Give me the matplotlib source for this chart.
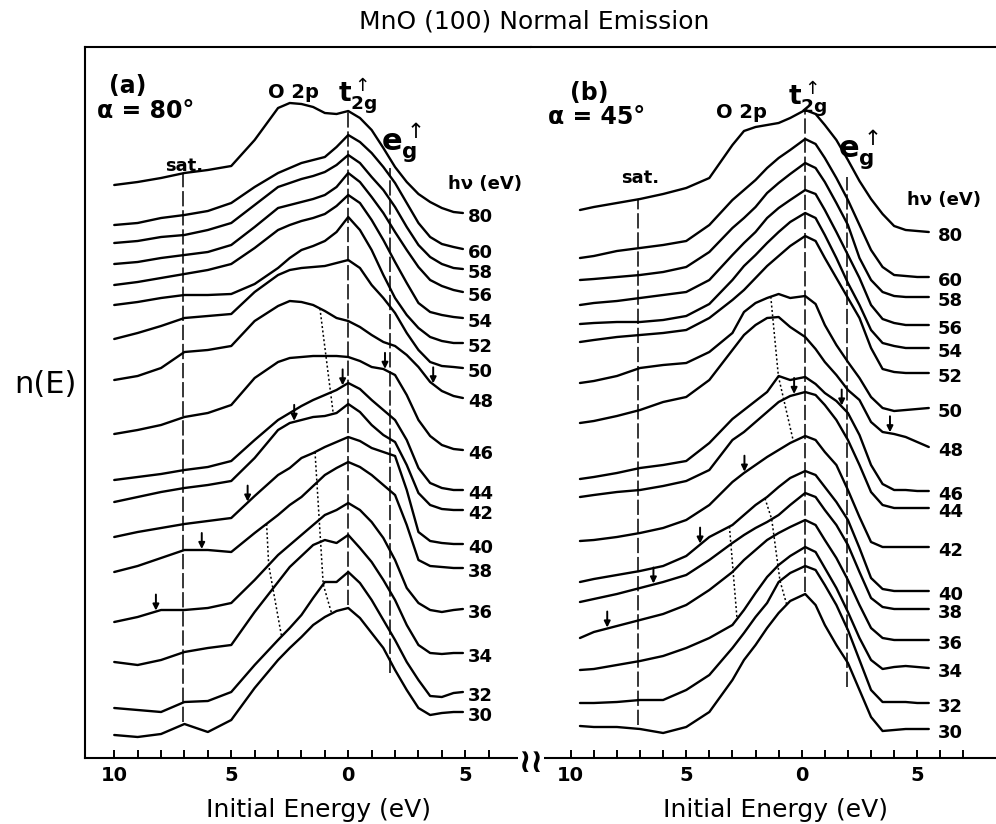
import numpy as np
import matplotlib
matplotlib.use("Agg")
import matplotlib.pyplot as plt

# photon energies, top spectrum first
HV = [80, 60, 58, 56, 54, 52, 50, 48, 46, 44, 42, 40, 38, 36, 34, 32, 30]

# panel (a), alpha = 80 deg: initial energy (eV below E_F) and stacked n(E)
ENERGY_A = [10, 9, 8, 7, 6, 5, 4, 3, 2.5, 2, 1.5, 1, 0.5, 0,
            -0.5, -1, -1.5, -2, -2.5, -3, -3.5, -4, -4.5, -4.9]
A_80 = [573, 576, 580, 585, 588, 592, 618, 650, 655, 654, 651, 645, 644, 647, 640, 628, 610, 591, 576, 564, 556, 550, 546, 545]
A_60 = [533, 535, 540, 543, 547, 555, 571, 585, 590, 595, 598, 601, 611, 623, 616, 605, 591, 575, 555, 535, 521, 514, 511, 509]
A_58 = [515, 517, 521, 523, 528, 535, 553, 571, 575, 579, 582, 586, 593, 603, 595, 581, 568, 551, 531, 513, 501, 494, 490, 489]
A_56 = [494, 496, 500, 503, 506, 513, 531, 550, 553, 556, 559, 563, 571, 585, 576, 561, 545, 526, 508, 491, 478, 472, 468, 466]
A_54 = [473, 476, 480, 484, 488, 494, 510, 528, 533, 537, 540, 544, 552, 563, 555, 538, 518, 496, 475, 455, 446, 443, 441, 440]
A_52 = [453, 456, 460, 463, 463, 464, 474, 490, 500, 508, 512, 517, 526, 541, 528, 508, 483, 460, 443, 430, 421, 417, 415, 415]
A_50 = [419, 425, 432, 440, 442, 444, 466, 483, 488, 490, 491, 492, 495, 498, 490, 473, 460, 445, 425, 408, 396, 392, 391, 390]
A_48 = [378, 382, 390, 406, 408, 412, 437, 452, 457, 456, 453, 447, 440, 437, 431, 423, 416, 412, 403, 391, 376, 367, 362, 360]
A_46 = [324, 328, 333, 341, 345, 353, 380, 396, 400, 401, 402, 402, 402, 401, 397, 391, 389, 383, 363, 338, 322, 313, 309, 308]
A_44 = [278, 281, 284, 288, 291, 297, 318, 338, 345, 352, 358, 363, 368, 375, 369, 358, 348, 338, 318, 290, 275, 270, 268, 268]
A_42 = [256, 261, 266, 270, 273, 277, 300, 328, 335, 338, 341, 342, 345, 354, 346, 333, 323, 316, 293, 265, 253, 249, 248, 248]
A_40 = [221, 226, 230, 234, 237, 240, 262, 283, 290, 300, 305, 311, 316, 321, 317, 310, 306, 302, 268, 226, 217, 215, 214, 214]
A_38 = [186, 192, 200, 208, 208, 206, 225, 243, 253, 261, 272, 283, 290, 296, 291, 283, 273, 263, 233, 198, 192, 191, 190, 190]
A_36 = [136, 141, 148, 148, 150, 155, 178, 203, 213, 223, 233, 243, 248, 255, 248, 236, 220, 198, 170, 155, 148, 146, 148, 149]
A_34 = [96, 93, 98, 106, 110, 113, 146, 176, 191, 202, 213, 218, 215, 223, 210, 196, 178, 158, 133, 113, 105, 104, 105, 105]
A_32 = [50, 48, 46, 56, 57, 66, 93, 118, 130, 143, 160, 176, 176, 186, 175, 158, 138, 118, 96, 78, 62, 61, 65, 66]
A_30 = [23, 21, 24, 34, 26, 38, 70, 98, 110, 121, 133, 141, 147, 150, 140, 125, 110, 88, 68, 50, 43, 45, 46, 46]
SPECTRA_A = [A_80, A_60, A_58, A_56, A_54, A_52, A_50, A_48, A_46,
             A_44, A_42, A_40, A_38, A_36, A_34, A_32, A_30]

# panel (b), alpha = 45 deg
ENERGY_B = [9.6, 9, 8, 7, 6, 5, 4, 3, 2.5, 2, 1.5, 1, 0.5, -0.15,
            -0.6, -1, -1.5, -2, -2.5, -3, -3.5, -4, -4.5, -5, -5.5]
B_80 = [548, 551, 555, 559, 564, 570, 580, 613, 627, 631, 633, 635, 640, 648, 644, 633, 618, 598, 577, 559, 544, 532, 528, 527, 526]
B_60 = [500, 502, 507, 510, 513, 517, 533, 558, 568, 578, 590, 600, 608, 619, 614, 600, 580, 558, 533, 508, 491, 483, 482, 481, 481]
B_58 = [478, 479, 481, 483, 486, 491, 506, 530, 540, 551, 565, 575, 584, 595, 590, 576, 555, 533, 500, 478, 466, 462, 461, 461, 461]
B_56 = [453, 455, 457, 460, 463, 466, 478, 503, 515, 526, 540, 550, 558, 568, 564, 548, 526, 503, 480, 453, 439, 435, 433, 433, 433]
B_54 = [434, 435, 436, 436, 438, 442, 454, 478, 492, 503, 515, 526, 536, 545, 540, 523, 500, 475, 453, 428, 415, 412, 410, 410, 410]
B_52 = [416, 418, 421, 423, 425, 428, 440, 458, 468, 480, 492, 502, 512, 522, 517, 500, 480, 460, 440, 410, 389, 386, 385, 385, 385]
B_50 = [375, 377, 382, 390, 393, 395, 406, 425, 446, 455, 460, 464, 460, 462, 454, 433, 413, 396, 380, 361, 350, 347, 348, 349, 350]
B_48 = [335, 337, 342, 348, 356, 361, 378, 408, 423, 433, 440, 441, 431, 421, 409, 396, 383, 368, 358, 336, 326, 324, 321, 316, 311]
B_46 = [279, 281, 285, 290, 293, 297, 315, 339, 348, 357, 366, 382, 378, 381, 374, 365, 357, 345, 323, 293, 274, 268, 268, 267, 267]
B_44 = [261, 263, 266, 268, 272, 277, 288, 318, 326, 336, 346, 356, 362, 366, 363, 353, 338, 318, 293, 266, 253, 250, 250, 250, 250]
B_42 = [217, 218, 221, 225, 230, 238, 253, 276, 285, 293, 301, 308, 315, 322, 318, 306, 293, 268, 241, 216, 211, 211, 211, 211, 211]
B_40 = [176, 179, 183, 187, 192, 202, 221, 233, 243, 253, 261, 271, 280, 287, 283, 271, 256, 238, 210, 180, 169, 167, 167, 167, 167]
B_38 = [156, 159, 164, 170, 176, 183, 198, 215, 223, 230, 236, 243, 253, 265, 261, 248, 233, 213, 186, 160, 151, 149, 149, 149, 149]
B_36 = [120, 126, 132, 138, 144, 153, 168, 186, 198, 208, 218, 225, 231, 238, 233, 218, 200, 178, 153, 130, 120, 118, 118, 118, 118]
B_34 = [88, 89, 93, 97, 102, 110, 120, 133, 148, 165, 181, 193, 202, 211, 206, 190, 170, 146, 120, 98, 89, 91, 92, 91, 90]
B_32 = [55, 55, 56, 58, 58, 68, 83, 110, 125, 141, 155, 176, 185, 192, 188, 173, 153, 128, 98, 68, 56, 56, 56, 55, 55]
B_30 = [32, 31, 31, 29, 25, 31, 46, 78, 98, 113, 130, 145, 157, 164, 153, 133, 113, 95, 68, 41, 27, 28, 29, 29, 29]
SPECTRA_B = [B_80, B_60, B_58, B_56, B_54, B_52, B_50, B_48, B_46,
             B_44, B_42, B_40, B_38, B_36, B_34, B_32, B_30]

# vertical guides: sat., t2g, eg (energy, top, bottom)
GUIDE_E_A = [7.06, 0.0, -1.78]
GUIDE_TOP_A = [585, 647, 590]
GUIDE_BOT_A = [36, 153, 85]
GUIDE_E_B = [7.07, -0.15, -1.95]
GUIDE_TOP_B = [558, 648, 581]
GUIDE_BOT_B = [33, 166, 71]

# dotted dispersion lines: (hv of spectrum, energy)
DOTS_A = [[(48, 1.21), (42, 0.64)],
          [(40, 1.42), (32, 1.07), (30, 0.71)],
          [(38, 3.49), (36, 3.40), (32, 2.85)]]
DOTS_B = [[(50, 1.34), (46, 1.01), (42, 0.36)],
          [(40, 1.59), (38, 1.30), (32, 0.94), (30, 0.65)],
          [(40, 3.13), (34, 2.80)]]

# small arrows: (hv of spectrum, energy)
ARROWS_A = [(46, -1.57), (48, -3.63), (44, 0.24), (42, 2.31), (40, 4.30), (38, 6.26), (36, 8.22)]
ARROWS_B = [(44, 0.33), (46, -1.73), (48, -3.82), (42, 2.48), (40, 4.40), (38, 6.42), (36, 8.42)]


def level(energy, values, e):
    energy = np.asarray(energy, dtype=float)
    values = np.asarray(values, dtype=float)
    return float(np.interp(e, energy[::-1], values[::-1]))


def draw_panel(ax, energy, spectra, guide_e, guide_top, guide_bot, dots, arrows, label_e):
    by_hv = dict(zip(HV, spectra))
    for hv, vals in zip(HV, spectra):
        ax.plot(energy, vals, color="black", lw=1.7, solid_joinstyle="round",
                solid_capstyle="round", zorder=3)
        ax.text(label_e, vals[-1] - 4, str(hv), fontsize=13, fontweight="bold",
                ha="left", va="center", clip_on=False)
    for e, top, bot in zip(guide_e, guide_top, guide_bot):
        ax.plot([e, e], [bot, top], color="black", lw=1.1,
                linestyle=(0, (10, 2.5)), zorder=2)
    for path in dots:
        xs = [e for hv, e in path]
        ys = [level(energy, by_hv[hv], e) for hv, e in path]
        ax.plot(xs, ys, color="black", lw=1.1, linestyle=(0, (1.3, 1.6)), zorder=2)
    for hv, e in arrows:
        tip = level(energy, by_hv[hv], e) + 1
        ax.annotate("", xy=(e, tip), xytext=(e, tip + 16),
                    arrowprops=dict(arrowstyle="-|>", color="black", lw=1.4,
                                    mutation_scale=9, shrinkA=0, shrinkB=0),
                    zorder=4)


def style_axis(ax, ticks, show_left):
    ax.set_ylim(0, 711)
    ax.set_yticks([])
    ax.spines["right"].set_visible(False)
    ax.spines["left"].set_visible(show_left)
    for s in ("top", "bottom", "left"):
        ax.spines[s].set_linewidth(1.5)
    labels = [str(abs(t)) if t % 5 == 0 else "" for t in ticks]
    ax.set_xticks(ticks)
    ax.set_xticklabels(labels)
    ax.tick_params(axis="x", direction="in", length=6, width=1.4, pad=6, labelsize=14)
    for lbl in ax.get_xticklabels():
        lbl.set_fontweight("bold")


fig = plt.figure(figsize=(9.96, 8.24), dpi=100)
W, H = 996.0, 824.0
ax_a = fig.add_axes([85 / W, 66 / H, 446 / W, 711 / H])
ax_b = fig.add_axes([531 / W, 66 / H, 465 / W, 711 / H])
ax_a.set_xlim(11.25, -7.81)
ax_b.set_xlim(11.72, -8.41)
style_axis(ax_a, list(range(10, -7, -1)), True)
style_axis(ax_b, list(range(10, -8, -1)), False)

draw_panel(ax_a, ENERGY_A, SPECTRA_A, GUIDE_E_A, GUIDE_TOP_A, GUIDE_BOT_A,
           DOTS_A, ARROWS_A, -5.12)
draw_panel(ax_b, ENERGY_B, SPECTRA_B, GUIDE_E_B, GUIDE_TOP_B, GUIDE_BOT_B,
           DOTS_B, ARROWS_B, -5.9)

t2g = r"$\mathbf{t}_{\mathbf{2g}}^{\uparrow}$"
eg = r"$\mathbf{e}_{\mathbf{g}}^{\uparrow}$"

# panel (a) annotations
ax_a.text(9.41, 672, "(a)", fontsize=17, fontweight="bold", ha="center", va="center")
ax_a.text(10.74, 647, "α = 80°", fontsize=17, fontweight="bold", ha="left", va="center")
ax_a.text(2.36, 665, "O 2p", fontsize=14, fontweight="bold", ha="center", va="center")
ax_a.text(0.44, 663, t2g, fontsize=19, ha="left", va="center")
ax_a.text(-1.40, 615, eg, fontsize=22, ha="left", va="center")
ax_a.text(7.0, 592, "sat.", fontsize=13, fontweight="bold", ha="center", va="center")
ax_a.text(-4.26, 574, "hν (eV)", fontsize=13, fontweight="bold", ha="left", va="center",
          clip_on=False)

# panel (b) annotations
ax_b.text(9.18, 665, "(b)", fontsize=17, fontweight="bold", ha="center", va="center")
ax_b.text(10.98, 641, "α = 45°", fontsize=17, fontweight="bold", ha="left", va="center")
ax_b.text(2.59, 645, "O 2p", fontsize=14, fontweight="bold", ha="center", va="center")
ax_b.text(0.59, 660, t2g, fontsize=19, ha="left", va="center")
ax_b.text(-1.57, 608, eg, fontsize=22, ha="left", va="center")
ax_b.text(7.0, 580, "sat.", fontsize=13, fontweight="bold", ha="center", va="center")
ax_b.text(-4.56, 558, "hν (eV)", fontsize=13, fontweight="bold", ha="left", va="center",
          clip_on=False)

fig.text(534 / W, 1 - 22 / H, "MnO (100) Normal Emission", fontsize=18,
         ha="center", va="center")
fig.text(45 / W, 1 - 385 / H, "n(E)", fontsize=22, ha="center", va="center")
fig.text(318 / W, 1 - 810 / H, "Initial Energy (eV)", fontsize=18,
         ha="center", va="center")
fig.text(775 / W, 1 - 810 / H, "Initial Energy (eV)", fontsize=18,
         ha="center", va="center")
# axis break mark
fig.text(531 / W, 1 - 762 / H, "≀≀", fontsize=24, fontweight="bold",
         ha="center", va="center",
         bbox=dict(facecolor="white", edgecolor="none", pad=0.3), zorder=10)

fig.savefig("out.png", dpi=100)
